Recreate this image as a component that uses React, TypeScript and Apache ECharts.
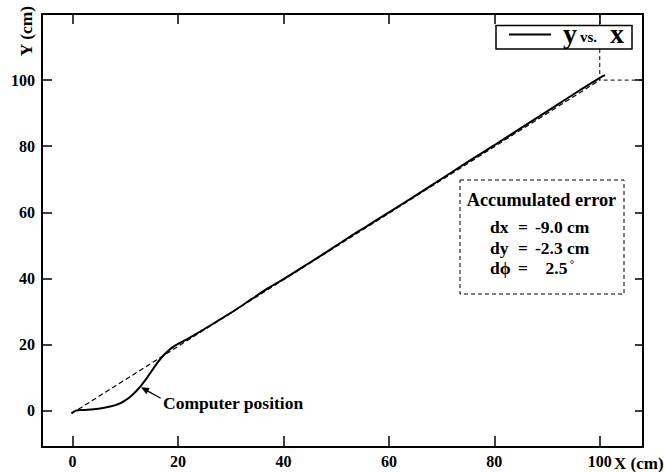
import React, { useEffect, useRef } from "react";
import * as echarts from "echarts";

const FONT = '"Liberation Serif", "Times New Roman", serif';

// axis ticks
const tickValues = [0, 20, 40, 60, 80, 100];

// computed (odometry) position, cm
const pathX = [-0.2, 0.6, 2, 4, 6, 8, 9, 10, 11, 12, 13, 14, 15, 16, 17, 18, 19, 20, 22, 25, 28, 31, 34, 37, 40, 44, 48, 52, 56, 60, 64, 68, 72, 76, 80, 84, 88, 92, 96, 100, 101];
const pathY = [-0.8, 0.0, 0.2, 0.4, 0.9, 1.6, 2.2, 3.1, 4.3, 5.8, 7.6, 9.7, 12.0, 14.3, 16.3, 17.9, 19.2, 20.2, 21.9, 24.7, 27.6, 30.6, 33.8, 37.0, 39.8, 43.8, 47.8, 52.0, 56.0, 60.0, 64.0, 68.1, 72.2, 76.3, 80.3, 84.4, 88.5, 92.6, 96.7, 100.7, 101.5];

// reference (true) straight path
const refX = [-0.2, 100];
const refY = [-0.9, 100];

// dashed guide to the target point (100, 100)
const guideX = [100, 100, 108.2];
const guideY = [120, 100, 100];

// accumulated error box
const errorTitle = "Accumulated error";
const errorLabels = ["dx", "dy", "d\u03d5"];
const errorValues = ["-9.0 cm", "-2.3 cm", "2.5"];

const zip = (xs: number[], ys: number[]) => xs.map((x, i) => [x, ys[i]]);

export default function App() {
  const ref = useRef<HTMLDivElement>(null);

  useEffect(() => {
    document.body.style.margin = "0";
    if (!ref.current) return;
    const chart = echarts.init(ref.current, null, { renderer: "svg" });

    const axisLine = { show: true, onZero: false, lineStyle: { color: "#000", width: 2 } };
    const tick = (len: number) => ({
      show: true,
      inside: true,
      length: len,
      customValues: tickValues,
      lineStyle: { color: "#000", width: 1.5 },
    });
    const label = (margin: number) => ({
      customValues: tickValues,
      color: "#000",
      fontFamily: FONT,
      fontWeight: "bold",
      fontSize: 16,
      margin,
    });

    const txt = (x: number, y: number, text: string, size: number, align = "left", extra: any = {}) => ({
      type: "text",
      x,
      y,
      z: 110,
      ...extra,
      style: {
        text,
        fill: "#000",
        fontFamily: FONT,
        fontWeight: "bold",
        fontSize: size,
        align,
        verticalAlign: "middle",
      },
    });

    const rowYs = [226.5, 247.5, 268.3];

    chart.setOption({
      animation: false,
      backgroundColor: "#fff",
      grid: { left: 42, top: 14, width: 601, height: 433, containLabel: false, outerBoundsMode: "none" },
      xAxis: [
        {
          type: "value",
          position: "bottom",
          min: -5.8,
          max: 108.2,
          axisLine,
          axisTick: tick(11),
          axisLabel: label(6),
          splitLine: { show: false },
        },
        {
          type: "value",
          position: "top",
          min: -5.8,
          max: 108.2,
          axisLine,
          axisTick: tick(10),
          axisLabel: { show: false },
          splitLine: { show: false },
        },
      ],
      yAxis: [
        {
          type: "value",
          position: "left",
          min: -11,
          max: 120,
          axisLine,
          axisTick: tick(10),
          axisLabel: label(7),
          splitLine: { show: false },
        },
        {
          type: "value",
          position: "right",
          min: -11,
          max: 120,
          axisLine,
          axisTick: tick(8),
          axisLabel: { show: false },
          splitLine: { show: false },
        },
      ],
      series: [
        {
          name: "guide",
          type: "line",
          data: zip(guideX, guideY),
          showSymbol: false,
          lineStyle: { color: "#000", width: 1, type: [4, 3] },
          z: 1,
          silent: true,
        },
        {
          name: "reference",
          type: "line",
          data: zip(refX, refY),
          showSymbol: false,
          lineStyle: { color: "#000", width: 1.2, type: [5, 3] },
          z: 2,
        },
        {
          name: "y vs. x",
          type: "line",
          data: zip(pathX, pathY),
          showSymbol: false,
          smooth: 0.3,
          lineStyle: { color: "#000", width: 2 },
          z: 3,
        },
      ],
      graphic: [
        // axis names
        txt(25.9, 31, "Y (cm)", 17.5, "center", { rotation: Math.PI / 2 }),
        txt(614, 463.5, "X (cm)", 17, "left"),
        // legend
        {
          type: "rect",
          z: 100,
          shape: { x: 496, y: 25.5, width: 136, height: 23.5 },
          style: { fill: "#fff", stroke: "#000", lineWidth: 1.5 },
        },
        {
          type: "line",
          z: 110,
          shape: { x1: 509, y1: 34.5, x2: 551, y2: 34.5 },
          style: { stroke: "#000", lineWidth: 2 },
        },
        txt(563, 33, "y", 28, "left"),
        txt(580, 37, "vs.", 15, "left"),
        txt(610, 33, "x", 28, "left"),
        // error box
        {
          type: "rect",
          z: 100,
          shape: { x: 460, y: 180, width: 164, height: 114 },
          style: { fill: "rgba(0,0,0,0)", stroke: "#000", lineWidth: 1, lineDash: [4, 3] },
        },
        txt(541.5, 199.5, errorTitle, 18.3, "center"),
        ...errorLabels.map((l, i) => txt(490, rowYs[i], l, 17.5, "left")),
        ...errorLabels.map((_, i) => txt(523, rowYs[i], "=", 17.5, "center")),
        ...errorValues.map((v, i) => txt(i === 2 ? 545.5 : 535, rowYs[i], v, 17.5, "left")),
        txt(570, 264.5, "\u00b0", 10, "left"),
        // annotation
        {
          type: "line",
          z: 110,
          shape: { x1: 160.7, y1: 398.3, x2: 147, y2: 390.6 },
          style: { stroke: "#000", lineWidth: 1.3 },
        },
        {
          type: "polygon",
          z: 110,
          shape: { points: [[141, 387.3], [149.7, 388.1], [146.3, 394.3]] },
          style: { fill: "#000" },
        },
        txt(163, 402.5, "Computer position", 17.5, "left"),
      ],
    });

    return () => chart.dispose();
  }, []);

  return <div ref={ref} style={{ width: 666, height: 472 }} />;
}
